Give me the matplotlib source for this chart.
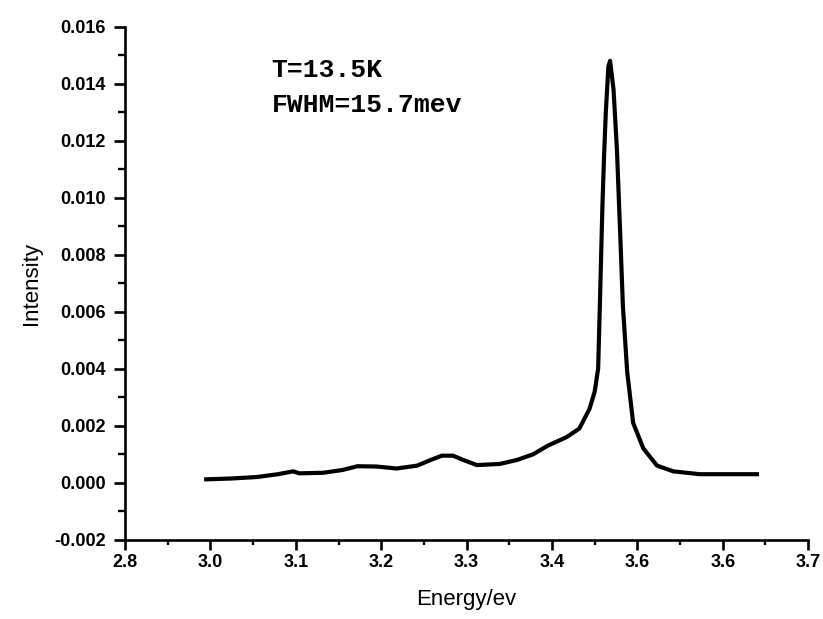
import matplotlib
matplotlib.use("Agg")
import matplotlib.pyplot as plt
from matplotlib.ticker import MultipleLocator

# PL spectrum
energy = [2.995, 3.025, 3.054, 3.079, 3.097, 3.104, 3.132, 3.155, 3.172, 3.194,
          3.218, 3.242, 3.258, 3.271, 3.284, 3.296, 3.312, 3.339, 3.359, 3.378,
          3.395, 3.417, 3.432, 3.444, 3.450, 3.454, 3.456, 3.459, 3.461, 3.463,
          3.466, 3.468, 3.472, 3.476, 3.480, 3.483, 3.488, 3.495, 3.507, 3.523,
          3.542, 3.573, 3.611, 3.640]
intensity = [0.00012, 0.00015, 0.00020, 0.00030, 0.00040, 0.00033, 0.00035, 0.00045, 0.00058, 0.00057,
             0.00050, 0.00060, 0.00080, 0.00095, 0.00095, 0.00080, 0.00062, 0.00066, 0.00080, 0.00100,
             0.00130, 0.00160, 0.00190, 0.00260, 0.00320, 0.00400, 0.00620, 0.00970, 0.01150, 0.01300,
             0.01460, 0.01480, 0.01380, 0.01170, 0.00860, 0.00620, 0.00390, 0.00210, 0.00120, 0.00060,
             0.00040, 0.00030, 0.00030, 0.00030]

xticks = [2.9, 3.0, 3.1, 3.2, 3.3, 3.4, 3.5, 3.6, 3.7]
xticklabels = ["2.8", "3.0", "3.1", "3.2", "3.3", "3.4", "3.6", "3.6", "3.7"]
yticks = [-0.002, 0.000, 0.002, 0.004, 0.006, 0.008, 0.010, 0.012, 0.014, 0.016]
annot = ["T=13.5K", "FWHM=15.7mev"]

plt.rcParams['font.family'] = ['Liberation Sans', 'DejaVu Sans']

fig = plt.figure(figsize=(8.23, 6.19), dpi=100)
ax = fig.add_axes([0.152, 0.128, 0.830, 0.829])

ax.plot(energy, intensity, color='black', linewidth=3.0)

ax.set_xlim(2.9, 3.7)
ax.set_ylim(-0.002, 0.016)
ax.set_xticks(xticks)
ax.set_xticklabels(xticklabels)
ax.set_yticks(yticks)
ax.set_yticklabels(["%.3f" % v for v in yticks])
ax.xaxis.set_minor_locator(MultipleLocator(0.05))
ax.yaxis.set_minor_locator(MultipleLocator(0.001))

for s in ['top', 'right']:
    ax.spines[s].set_visible(False)
for s in ['left', 'bottom']:
    ax.spines[s].set_linewidth(1.9)

ax.tick_params(axis='x', which='major', direction='out', length=7, width=1.9, pad=3.5,
               labelsize=13)
ax.tick_params(axis='x', which='minor', direction='out', length=3.5, width=1.7)
ax.tick_params(axis='y', which='major', direction='out', length=8, width=1.9, pad=6,
               labelsize=13)
ax.tick_params(axis='y', which='minor', direction='out', length=5, width=1.7)
for lab in ax.get_xticklabels() + ax.get_yticklabels():
    lab.set_fontweight('bold')

ax.set_xlabel("Energy/ev", fontsize=16, labelpad=13)
ax.set_ylabel("Intensity", fontsize=16, labelpad=9)

fig.text(0.330, 0.876, annot[0], fontsize=19, fontweight='bold',
         family=['Liberation Mono', 'DejaVu Sans Mono'], va='baseline')
fig.text(0.330, 0.819, annot[1], fontsize=19, fontweight='bold',
         family=['Liberation Mono', 'DejaVu Sans Mono'], va='baseline')

fig.savefig("out.png", dpi=100)
